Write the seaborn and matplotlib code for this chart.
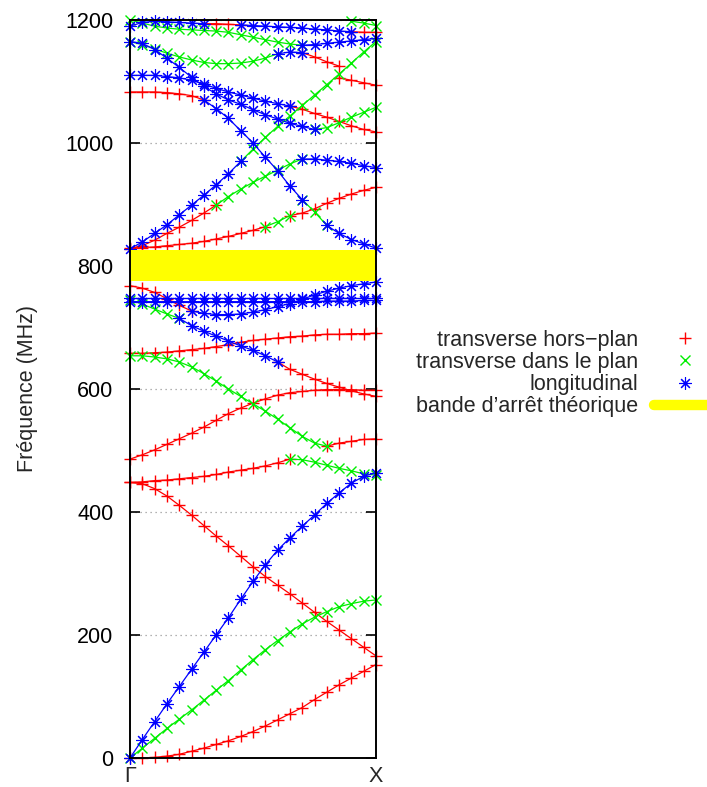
import matplotlib
matplotlib.use("Agg")
import matplotlib.pyplot as plt
import seaborn as sns
from matplotlib.lines import Line2D

sns.set_style("white")
plt.rcParams['font.family'] = ['Liberation Sans', 'DejaVu Sans']

N = None

# k grid from Gamma to X
k = [0.0, 0.05, 0.1, 0.15, 0.2, 0.25, 0.3, 0.35, 0.4, 0.45, 0.5,
     0.55, 0.6, 0.65, 0.7, 0.75, 0.8, 0.85, 0.9, 0.95, 1.0]
k_ticks = [0.0, 1.0]
k_labels = ['Γ', 'X']
y_ticks = [0, 200, 400, 600, 800, 1000, 1200]
stop_band = [776, 826]

# transverse hors-plan (red) segments, MHz
hp_acoustique = [0, 0, 1, 3, 6, 11, 16, 22, 28, 35, 43, 52, 62, 72, 82, 95, 107, 119, 130, 141, 152]
hp_descente = [448, 446, 438, 426, 411, 395, 378, 361, 345, 328, 311, 295, 281, 267, 252, 237, 222, 208, 194, 180, 166]
hp_a = [448, 449, 451, 452, 454, 456, 458, 461, 465, 468, 471, 475, 480, 486] + [N] * 7
hp_b = [N] * 16 + [507, 512, 515, 518, 519]
hp_n = [486, 493, 501, 510, 519, 528, 538, 549, 560, 569, 577, 584, 590, 594, 596, 598, 599, 599, 599, 598, 598]
hp_o = [658, 658, 659, 660, 662, 664, 666, 669, 672, 676, 679, 681, 683, 685, 686, 688, 689, 689, 690, 690, 691]
hp_c = [N] * 12 + [644, 632, 624, 616, 609, 603, 597, 592, 588]
hp_d = [768, 764, 757, 747, 736, 727] + [N] * 15
hp_g1 = [829, 830, 831, 833, 835, 837, 840, 844, 848, 853, 858, 864] + [N] * 9
hp_g2 = [N] * 13 + [882, 886, 893, 902, 910, 917, 923, 928]
hp_h = [828, 833, 842, 853, 863, 874, 886, 899] + [N] * 13
hp_f = [1083, 1083, 1083, 1082, 1080, 1077, 1070] + [N] * 14
hp_b1 = [N] * 13 + [1060, 1055, 1048, 1042, 1035, 1028, 1022, 1018]
hp_i = [N] * 14 + [1147, 1140, 1132, 1125] + [N] * 3
hp_e = [N] * 17 + [1106, 1102, 1098, 1094]
hp_m1 = [N] * 6 + [1194, 1194, 1193, 1192] + [N] * 11
hp_m2 = [N] * 18 + [1181, 1180, 1180]

# transverse dans le plan (green) segments
dp_acoustique = [0, 16, 32, 48, 63, 78, 94, 110, 126, 143, 160, 176, 191, 205, 218, 229, 238, 246, 251, 255, 257]
dp_a = [N] * 13 + [486, 485, 481, 476, 471, 467, 462, 460]
dp_b = [654, 654, 652, 649, 644, 636, 625, 613, 600, 588, 576, 564, 551, 537, 523, 512, 507] + [N] * 4
dp_c = [745, 738, 730, 722, 715] + [N] * 16
dp_g = [N] * 11 + [864, 872, 882] + [N] * 7
dp_h = [N] * 7 + [899, 913, 925, 936, 946, 956, 966, 974] + [N] * 6
dp_e = [N] * 9 + [970, 990, 1009, 1027, 1044, 1061, 1078, 1095, 1112, 1130, 1148, 1165]
dp_f = [N] * 14 + [908, 888, 866] + [N] * 4
dp_b2 = [N] * 15 + [1022, 1025, 1033, 1042, 1050, 1058]
dp_i = [1165, 1160, 1153, 1146, 1140, 1135, 1131, 1129, 1129, 1130, 1133, 1138, 1145] + [N] * 8
dp_l = [1200, 1195, 1190, 1187, 1185, 1184, 1183, 1182, 1180, 1176, 1172, 1168, 1164, 1161, 1159] + [N] * 6
dp_m = [N] * 18 + [1198, 1195, 1191]

# longitudinal (blue) segments
lg_acoustique = [0, 30, 59, 88, 116, 144, 172, 200, 228, 258, 287, 314, 338, 358, 377, 395, 414, 431, 447, 458, 464]
lg_c = [N] * 4 + [715, 703, 694, 686, 678, 670, 663, 654, 644] + [N] * 8
lg_d = [N] * 5 + [727, 723, 721, 721, 722, 725, 729, 734, 739, 746, 753, 759, 764, 768, 771, 774]
lg_plat1 = [742, 742, 742, 742, 742, 742, 742, 742, 742, 742, 742, 742, 742, 742, 742, 742, 743, 743, 743, 744, 744]
lg_plat2 = [748, 748, 748, 748, 748, 748, 748, 748, 748, 748, 748, 748, 748, 748, 748, 748, 748, 748, 748, 748, 748]
lg_e = [828, 839, 853, 867, 883, 899, 915, 932, 950, 970] + [N] * 11
lg_h = [N] * 14 + [974, 974, 972, 970, 967, 963, 960]
lg_f1 = [N] * 6 + [1070, 1056, 1040, 1020, 1000, 977, 955, 930, 908] + [N] * 6
lg_f2 = [N] * 16 + [866, 853, 843, 836, 829]
lg_b1 = [1110, 1110, 1110, 1108, 1106, 1102, 1096, 1089, 1083, 1078, 1073, 1068, 1064, 1060] + [N] * 7
lg_b2 = [1165, 1162, 1152, 1138, 1123, 1107, 1092, 1080, 1070, 1063, 1054, 1046, 1039, 1032, 1027, 1022] + [N] * 5
lg_i = [N] * 12 + [1145, 1148, 1147] + [N] * 6
lg_l = [N] * 14 + [1159, 1160, 1162, 1164, 1166, 1168, 1170]
lg_m1 = [1190, 1196, 1198, 1197, 1196, 1195, 1194] + [N] * 14
lg_m2 = [N] * 9 + [1192, 1191, 1190, 1189, 1188, 1187, 1185, 1184, 1182, 1181] + [N] * 2

hors_plan = [hp_acoustique, hp_descente, hp_a, hp_b, hp_n, hp_o, hp_c, hp_d, hp_g1, hp_g2,
             hp_h, hp_f, hp_b1, hp_i, hp_e, hp_m1, hp_m2]
dans_plan = [dp_acoustique, dp_a, dp_b, dp_c, dp_g, dp_h, dp_e, dp_f, dp_b2, dp_i, dp_l, dp_m]
longitudinal = [lg_acoustique, lg_c, lg_d, lg_plat1, lg_plat2, lg_e, lg_h, lg_f1, lg_f2,
                lg_b1, lg_b2, lg_i, lg_l, lg_m1, lg_m2]

RED, GREEN, BLUE, YELLOW = '#ff0000', '#00ee00', '#0000ff', '#ffff00'
STAR = (8, 2, 0)
FS = 15.5

fig = plt.figure(figsize=(7.07, 7.87), dpi=100)
ax = fig.add_axes([130 / 707, 1 - 758 / 787, 246 / 707, 738 / 787])


def draw(values, color, marker, size, mew):
    xs = [kk for kk, v in zip(k, values) if v is not None]
    ys = [v for v in values if v is not None]
    sns.lineplot(x=xs, y=ys, ax=ax, color=color, marker=marker, markersize=size,
                 markeredgewidth=mew, markeredgecolor=color, linewidth=0.9,
                 estimator=None, sort=False, legend=False, clip_on=False, zorder=3)


for band in hors_plan:
    draw(band, RED, '+', 9, 1.0)
for band in dans_plan:
    draw(band, GREEN, 'x', 7, 1.0)
for band in longitudinal:
    draw(band, BLUE, STAR, 9, 0.8)

# stop band on top, as in the original
ax.axhspan(stop_band[0], stop_band[1], color=YELLOW, zorder=4, lw=0)

ax.set_xlim(0, 1)
ax.set_ylim(0, 1200)
ax.set_xticks(k_ticks)
ax.set_xticklabels(k_labels, fontsize=FS)
ax.set_yticks(y_ticks)
ax.set_yticklabels([str(v) for v in y_ticks], fontsize=FS)
ax.tick_params(axis='x', length=0, pad=6)
ax.tick_params(axis='y', direction='in', left=True, right=True, length=7, width=1.2, pad=12,
               colors='black')
ax.yaxis.grid(True, linestyle=(0, (1, 3)), color='#999999', linewidth=0.9)
ax.set_axisbelow(True)
for s in ax.spines.values():
    s.set_color('black')
    s.set_linewidth(1.4)
    s.set_zorder(5)

ax.set_ylabel('Fréquence (MHz)', fontsize=FS)
ax.yaxis.set_label_coords(-0.375, 0.5)

handles = [
    Line2D([], [], color=RED, marker='+', ls='none', markersize=9, markeredgewidth=1),
    Line2D([], [], color=GREEN, marker='x', ls='none', markersize=7, markeredgewidth=1),
    Line2D([], [], color=BLUE, marker=STAR, ls='none', markersize=9, markeredgewidth=0.8),
    Line2D([], [], color=YELLOW, lw=7.5),
]
labels = ['transverse hors−plan', 'transverse dans le plan', 'longitudinal',
          'bande d’arrêt théorique']
fig.legend(handles, labels, loc='center right', bbox_to_anchor=(716 / 707, 1 - 373.5 / 787),
           frameon=False, markerfirst=False, handlelength=2.9, handletextpad=0.7,
           labelspacing=0.05, fontsize=FS, borderpad=0, borderaxespad=0)

fig.savefig('out.png', dpi=100)
